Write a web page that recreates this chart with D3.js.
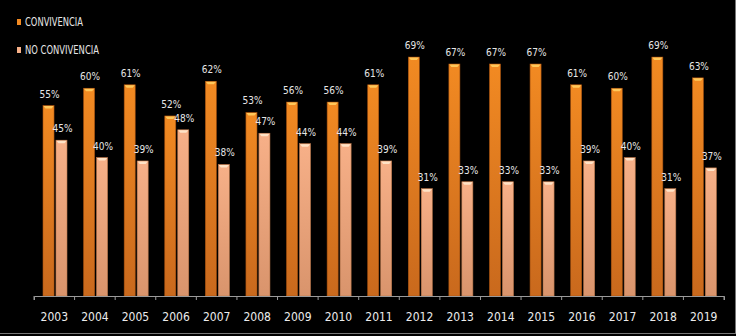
<!DOCTYPE html>
<html><head><meta charset="utf-8">
<script src="https://cdn.jsdelivr.net/npm/d3@7"></script>
<style>html,body{margin:0;padding:0;background:#000;}svg{display:block;}</style>
</head><body>
<svg id="c" width="736" height="336"></svg>
<script>
const years = ["2003","2004","2005","2006","2007","2008","2009","2010","2011","2012","2013","2014","2015","2016","2017","2018","2019"];
const convivencia = [55,60,61,52,62,53,56,56,61,69,67,67,67,61,60,69,63];
const noConvivencia = [45,40,39,48,38,47,44,44,39,31,33,33,33,39,40,31,37];
const seriesNames = ["CONVIVENCIA","NO CONVIVENCIA"];

const FONT = "'Liberation Sans Narrow','DejaVu Sans Condensed','Noto Sans',sans-serif";
const svg = d3.select("#c");
const W = 736, H = 336;
svg.append("rect").attr("width", W).attr("height", H).attr("fill", "#000");
svg.append("line").attr("x1",735.5).attr("x2",735.5).attr("y1",0).attr("y2",334).attr("stroke","#777");
svg.append("line").attr("x1",0).attr("x2",736).attr("y1",333.5).attr("y2",333.5).attr("stroke","#777");

const defs = svg.append("defs");
function grad(id, stops){
  const g = defs.append("linearGradient").attr("id", id).attr("x1",0).attr("x2",0).attr("y1",0).attr("y2",1);
  stops.forEach(s => g.append("stop").attr("offset", s[0]).attr("stop-color", s[1]));
}
grad("gA", [[0,"#f28a22"],[1,"#c9691d"]]);
grad("gB", [[0,"#f7b088"],[1,"#d9946c"]]);

const x = d3.scaleBand().domain(years).range([34, 724]).paddingInner(0).paddingOuter(0);
const x1 = d3.scaleBand().domain(seriesNames).range([9, 33]).paddingInner(0.15);
const y = d3.scaleLinear().domain([0, 80]).range([296, 19]);

const data = years.map((yr, i) => ({year: yr, vals: [
  {name: seriesNames[0], v: convivencia[i]},
  {name: seriesNames[1], v: noConvivencia[i]}]}));

const fills = {"CONVIVENCIA":"url(#gA)","NO CONVIVENCIA":"url(#gB)"};
const caps = {"CONVIVENCIA":"#ffc85a","NO CONVIVENCIA":"#ffe3c6"};
const edges = {"CONVIVENCIA":"#a85210","NO CONVIVENCIA":"#b8764a"};

const g = svg.append("g").selectAll("g").data(data).join("g")
  .attr("transform", d => `translate(${x(d.year)},0)`);

const bw = x1.bandwidth();
g.selectAll("rect.bar").data(d => d.vals).join("rect").attr("class","bar")
  .attr("x", d => x1(d.name)).attr("width", bw)
  .attr("y", d => y(d.v)).attr("height", d => y(0) - y(d.v))
  .attr("fill", d => fills[d.name]).attr("stroke", d => edges[d.name]).attr("stroke-width", 0.6);

g.selectAll("path.cap").data(d => d.vals).join("path").attr("class","cap")
  .attr("d", d => {
    const x0 = x1(d.name), yt = y(d.v);
    return `M${x0+0.5},${yt+0.5} L${x0+bw-0.5},${yt+0.5} L${x0+bw-2.5},${yt+3} L${x0+2.5},${yt+3} Z`;
  })
  .attr("fill", d => caps[d.name]);

g.selectAll("text.val").data(d => d.vals).join("text").attr("class","val")
  .attr("x", d => x1(d.name) + bw/2 + 1).attr("y", d => y(d.v) - 8)
  .attr("text-anchor","middle").attr("font-family", FONT).attr("font-size", 10)
  .attr("fill", "#e6e6e6").text(d => d.v + "%");

const axis = d3.axisBottom(x).tickSize(4).tickSizeOuter(4);
const ax = svg.append("g").attr("transform","translate(0,296)").call(axis);
ax.select(".domain").attr("stroke","#9a9a9a");
ax.selectAll(".tick line").attr("stroke","#9a9a9a").attr("transform", `translate(${-x.bandwidth()/2},0)`);
ax.selectAll(".tick text").attr("fill","#ececec").attr("font-family", FONT).attr("font-size", 12).attr("dy", "1.5em");
ax.append("line").attr("x1",724).attr("x2",724).attr("y1",0).attr("y2",4).attr("stroke","#9a9a9a");

const legLens = [58, 74];
const leg = svg.append("g");
seriesNames.forEach((n, i) => {
  const yy = 22 + i * 28;
  leg.append("rect").attr("x", 17).attr("y", yy - 3).attr("width", 4).attr("height", 6)
    .attr("fill", i === 0 ? "#f28a22" : "#f7b088");
  leg.append("text").attr("x", 25).attr("y", yy).attr("dy","0.35em")
    .attr("font-family", FONT).attr("font-size", 12).attr("fill", "#e6e6e6")
    .attr("textLength", legLens[i]).attr("lengthAdjust", "spacingAndGlyphs").text(n);
});
</script>
</body></html>
